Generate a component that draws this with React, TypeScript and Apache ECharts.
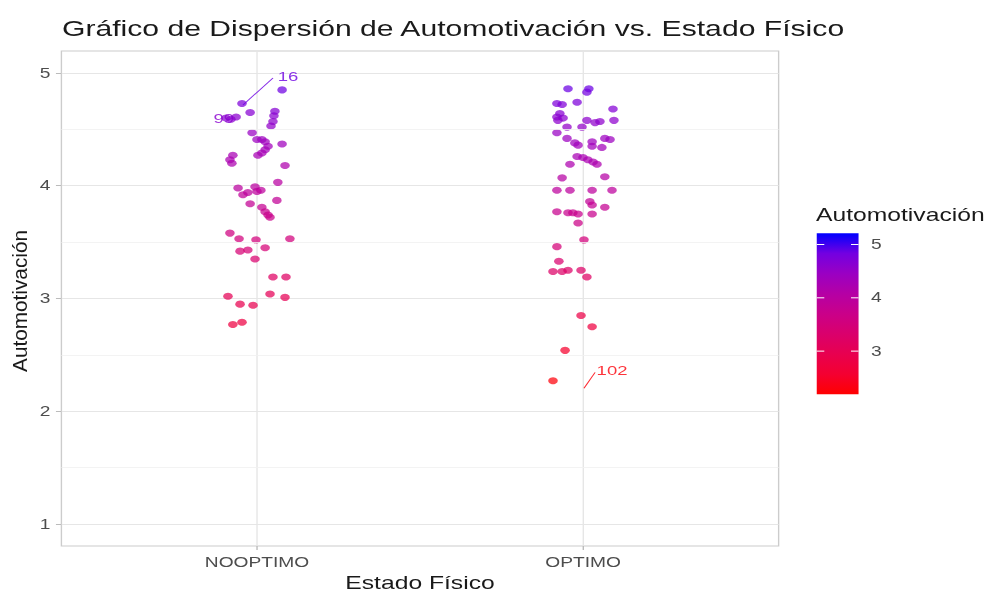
import React, { useEffect, useRef } from 'react';
import * as echarts from 'echarts';

// Categories, axis ticks and colour-scale limits
const CATEGORIES = ['NOOPTIMO', 'OPTIMO'];
const Y_TICKS = [1, 2, 3, 4, 5];
const Y_MINOR = [1.5, 2.5, 3.5, 4.5];
const LEGEND_TICKS = [3, 4, 5];
const COLOUR_MIN = 2.19;
const COLOUR_MAX = 5.21;

// Jittered horizontal offsets (from the category centre) and Automotivación values
const noOptimoJitter = [
  0.077, -0.046, -0.021, -0.095, -0.08, -0.064, 0.055, 0.052, 0.049, 0.043,
  -0.015, 0.0, 0.015, 0.025, 0.077, 0.034, 0.025, 0.015, 0.003, -0.074,
  -0.083, -0.077, 0.086, 0.064, -0.058, -0.043, -0.028, -0.006, 0.0, 0.012,
  -0.021, 0.061, 0.015, 0.025, 0.034, 0.04, -0.083, -0.055, -0.003, 0.101,
  0.025, -0.052, -0.028, -0.006, 0.049, 0.089, 0.04, 0.086, -0.089, -0.052,
  -0.012, -0.074, -0.046,
];
const noOptimoValues = [
  4.85, 4.73, 4.65, 4.6, 4.59, 4.61, 4.66, 4.62, 4.57, 4.53,
  4.47, 4.41, 4.41, 4.39, 4.37, 4.35, 4.32, 4.29, 4.27, 4.27,
  4.23, 4.2, 4.18, 4.03, 3.98, 3.92, 3.94, 3.99, 3.95, 3.96,
  3.84, 3.87, 3.81, 3.77, 3.74, 3.72, 3.58, 3.53, 3.52, 3.53,
  3.45, 3.42, 3.43, 3.35, 3.19, 3.19, 3.04, 3.01, 3.02, 2.95,
  2.94, 2.77, 2.79,
];
const optimoJitter = [
  -0.046, 0.018, 0.012, -0.018, -0.08, -0.064, 0.092, -0.08, -0.071, -0.061,
  -0.077, -0.049, -0.003, 0.012, 0.037, 0.052, 0.095, -0.08, -0.049, -0.025,
  -0.015, 0.028, 0.028, 0.067, 0.083, 0.058, -0.018, 0.0, 0.015, 0.031,
  0.043, -0.04, -0.064, 0.067, -0.08, -0.04, 0.028, 0.089, 0.021, 0.028,
  -0.08, -0.046, -0.031, -0.015, 0.028, 0.067, -0.015, 0.003, -0.08, -0.074,
  -0.092, -0.064, -0.046, -0.006, 0.012, -0.006, 0.028, -0.055, -0.092,
];
const optimoValues = [
  4.86, 4.86, 4.83, 4.74, 4.73, 4.72, 4.68, 4.61, 4.64, 4.6,
  4.58, 4.52, 4.52, 4.58, 4.56, 4.57, 4.58, 4.47, 4.42, 4.38,
  4.36, 4.39, 4.35, 4.42, 4.41, 4.34, 4.26, 4.25, 4.23, 4.21,
  4.19, 4.19, 4.07, 4.08, 3.96, 3.96, 3.96, 3.96, 3.86, 3.83,
  3.77, 3.76, 3.76, 3.75, 3.75, 3.81, 3.67, 3.52, 3.46, 3.33,
  3.24, 3.24, 3.25, 3.25, 3.19, 2.85, 2.75, 2.54, 2.27,
];

// Labelled observations: id, colour value, text anchor and leader segment
const LABEL_IDS = ['16', '99', '102'];
const LABEL_VALUES = [4.85, 4.6, 2.27];
const LABEL_ANCHORS = [[1.095, 4.973], [0.898, 4.602], [2.089, 2.363]];
const LABEL_SEGMENTS = [
  [[0.957, 4.717], [1.049, 4.956]],
  null,
  [[2.003, 2.204], [2.037, 2.345]],
];

// red -> blue gradient sampled in CIELab
const RAMP = ['#FF0000', '#F40031', '#E8004F', '#DA006C', '#CA0089', '#B500A5', '#9A00C3', '#7300E1', '#0000FF'];

const FONT = "'Liberation Sans', Arial, Helvetica, sans-serif";
const STRETCH = 987 / 720;

function hexToRgb(h: string) {
  return [parseInt(h.slice(1, 3), 16), parseInt(h.slice(3, 5), 16), parseInt(h.slice(5, 7), 16)];
}
function colourAt(v: number) {
  const t = Math.min(1, Math.max(0, (v - COLOUR_MIN) / (COLOUR_MAX - COLOUR_MIN)));
  const p = t * (RAMP.length - 1);
  const i = Math.min(RAMP.length - 2, Math.floor(p));
  const f = p - i;
  const a = hexToRgb(RAMP[i]);
  const b = hexToRgb(RAMP[i + 1]);
  const c = a.map((x, k) => Math.round(x + (b[k] - x) * f));
  return `rgb(${c[0]},${c[1]},${c[2]})`;
}

export default function App() {
  const ref = useRef<HTMLDivElement>(null);

  useEffect(() => {
    if (!ref.current) return;
    const chart = echarts.init(ref.current, null, { renderer: 'svg', width: 720, height: 597 });

    const bar = { x: 595.8, y: 233.3, w: 30.5, h: 161 };
    const barY = (v: number) => bar.y + ((COLOUR_MAX - v) / (COLOUR_MAX - COLOUR_MIN)) * bar.h;

    const legendGraphics: any[] = [
      {
        type: 'text',
        x: 595.3,
        y: 215,
        style: { text: 'Automotivación', font: `18px ${FONT}`, fill: '#1A1A1A', textVerticalAlign: 'middle' },
      },
      {
        type: 'rect',
        shape: { x: bar.x, y: bar.y, width: bar.w, height: bar.h },
        style: {
          fill: new echarts.graphic.LinearGradient(
            0, 0, 0, 1,
            RAMP.map((c, i) => ({ offset: 1 - i / (RAMP.length - 1), color: c })).reverse()
          ),
        },
      },
    ];
    LEGEND_TICKS.forEach((v) => {
      const y = barY(v);
      legendGraphics.push(
        { type: 'line', shape: { x1: bar.x, y1: y, x2: bar.x + 5.5, y2: y }, style: { stroke: '#FFFFFF', lineWidth: 1 } },
        { type: 'line', shape: { x1: bar.x + bar.w - 5.5, y1: y, x2: bar.x + bar.w, y2: y }, style: { stroke: '#FFFFFF', lineWidth: 1 } },
        {
          type: 'text',
          x: 635.4,
          y,
          style: { text: String(v), font: `14px ${FONT}`, fill: '#4D4D4D', textVerticalAlign: 'middle' },
        }
      );
    });

    const segmentSeries = LABEL_SEGMENTS.map((seg, i) =>
      seg
        ? {
            type: 'line',
            data: seg,
            symbol: 'none',
            silent: true,
            z: 4,
            lineStyle: { color: colourAt(LABEL_VALUES[i]), width: 0.8, opacity: 0.85 },
          }
        : null
    ).filter(Boolean);

    chart.setOption({
      animation: false,
      title: {
        text: 'Gráfico de Dispersión de Automotivación vs. Estado Físico',
        left: 45.2,
        top: 17,
        padding: 0,
        textStyle: { fontSize: 22, fontWeight: 'normal', color: '#1A1A1A', fontFamily: FONT },
      },
      grid: {
        left: 44.8,
        top: 51,
        width: 523.2,
        height: 496,
        show: true,
        borderColor: '#CCCCCC',
        borderWidth: 1,
        backgroundColor: 'transparent',
      },
      xAxis: {
        type: 'value',
        min: 0.4,
        max: 2.6,
        axisLine: { show: false },
        axisTick: { show: true, customValues: [1, 2], length: 4, lineStyle: { color: '#BBBBBB' } },
        axisLabel: {
          customValues: [1, 2],
          formatter: (v: number) => CATEGORIES[Math.round(v) - 1] ?? '',
          fontSize: 14,
          color: '#4D4D4D',
          fontFamily: FONT,
          margin: 9,
        },
        splitLine: { show: true, lineStyle: { color: '#E6E6E6', width: 1 } },
        name: 'Estado Físico',
        nameLocation: 'middle',
        nameGap: 28,
        nameTextStyle: { fontSize: 18, color: '#1A1A1A', fontFamily: FONT },
      },
      yAxis: {
        type: 'value',
        min: 0.805,
        max: 5.195,
        axisLine: { show: false },
        axisTick: { show: true, customValues: Y_TICKS, length: 4, lineStyle: { color: '#BBBBBB' } },
        axisLabel: {
          customValues: Y_TICKS,
          fontSize: 14,
          color: '#4D4D4D',
          fontFamily: FONT,
          margin: 8,
        },
        splitLine: { show: true, lineStyle: { color: '#E6E6E6', width: 1 } },
      },
      visualMap: {
        show: false,
        type: 'continuous',
        min: COLOUR_MIN,
        max: COLOUR_MAX,
        dimension: 1,
        seriesIndex: [1, 2],
        inRange: { color: RAMP },
      },
      graphic: [
        {
          type: 'text',
          x: 14.6,
          y: 301,
          rotation: Math.PI / 2,
          scaleX: 1.385,
          style: {
            text: 'Automotivación',
            font: `15px ${FONT}`,
            fill: '#1A1A1A',
            textAlign: 'center',
            textVerticalAlign: 'middle',
          },
        },
        ...legendGraphics,
      ],
      series: [
        {
          type: 'line',
          data: [],
          z: 1,
          silent: true,
          markLine: {
            silent: true,
            symbol: 'none',
            label: { show: false },
            lineStyle: { color: '#F0F0F0', width: 0.7, type: 'solid' },
            data: Y_MINOR.map((v) => ({ yAxis: v })),
          },
        },
        {
          name: CATEGORIES[0],
          type: 'scatter',
          z: 3,
          symbolSize: 7,
          itemStyle: { opacity: 0.72 },
          data: noOptimoJitter.map((j, i) => [1 + j, noOptimoValues[i]]),
        },
        {
          name: CATEGORIES[1],
          type: 'scatter',
          z: 3,
          symbolSize: 7,
          itemStyle: { opacity: 0.72 },
          data: optimoJitter.map((j, i) => [2 + j, optimoValues[i]]),
        },
        ...segmentSeries,
        {
          type: 'scatter',
          z: 5,
          silent: true,
          symbolSize: 1,
          itemStyle: { color: 'rgba(0,0,0,0)' },
          labelLayout: { hideOverlap: false },
          data: LABEL_IDS.map((id, i) => ({
            value: LABEL_ANCHORS[i],
            label: {
              show: true,
              position: 'inside',
              formatter: id,
              fontSize: 13.5,
              fontFamily: FONT,
              color: colourAt(LABEL_VALUES[i]),
            },
          })),
        },
      ],
    });

    return () => chart.dispose();
  }, []);

  return (
    <div
      ref={ref}
      style={{
        position: 'fixed',
        left: 0,
        top: 0,
        width: 720,
        height: 597,
        transform: `scaleX(${STRETCH})`,
        transformOrigin: '0 0',
      }}
    />
  );
}
